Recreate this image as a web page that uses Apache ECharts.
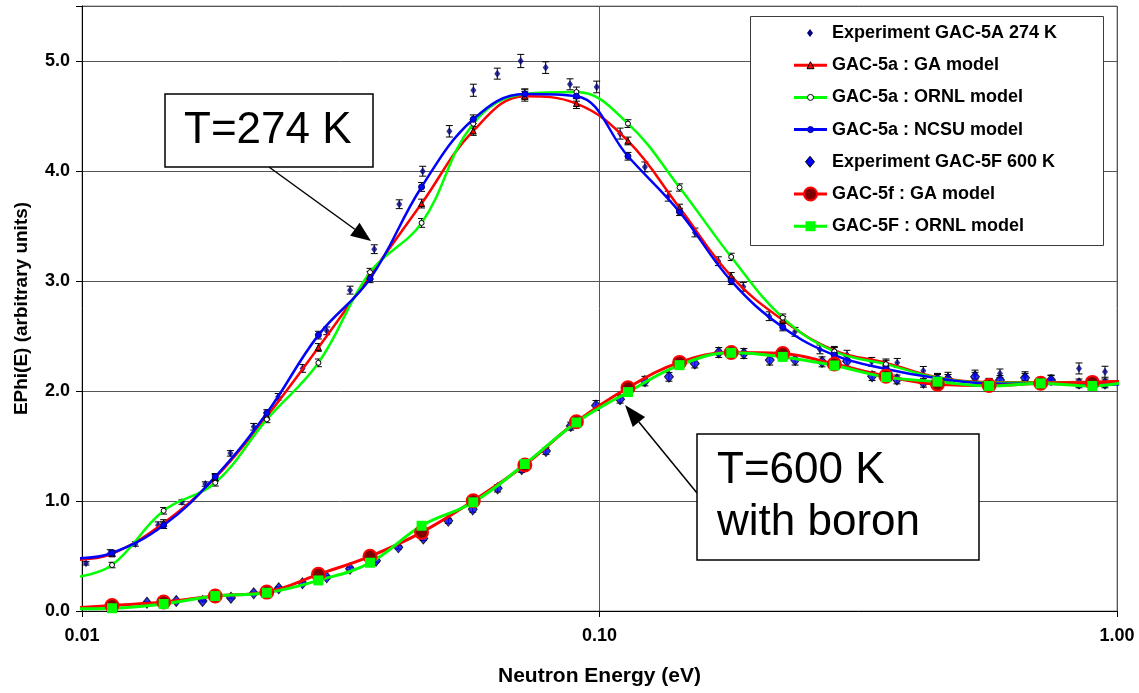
<!DOCTYPE html>
<html>
<head>
<meta charset="utf-8">
<script src="https://cdn.jsdelivr.net/npm/echarts@6/dist/echarts.min.js"></script>
<style>
  html, body { margin: 0; padding: 0; background: #ffffff; }
  #chart { width: 1139px; height: 693px; }
</style>
</head>
<body>
<div id="chart"></div>
<script>
// ---- Measured spectra: GAC-5A at 274 K ----
const E_EXP_274 = [0.01018, 0.01134, 0.01268, 0.01403, 0.0156, 0.01731, 0.01935, 0.02147, 0.02394, 0.02669,
  0.02971, 0.03296, 0.03671, 0.04102, 0.04554, 0.05127, 0.05705, 0.06346, 0.07043, 0.0787,
  0.0877, 0.09876, 0.1096, 0.1224, 0.1358, 0.1529, 0.1697, 0.1896, 0.2128, 0.2386,
  0.2667, 0.3008, 0.3358, 0.3762, 0.4224, 0.4715, 0.5317, 0.5941, 0.6643, 0.7457,
  0.8444, 0.948];
const Y_EXP_274 = [0.433, 0.53, 0.609, 0.78, 0.99, 1.154, 1.433, 1.675, 1.947, 2.205,
  2.547, 2.917, 3.289, 3.698, 3.998, 4.361, 4.734, 4.885, 5.0, 4.94,
  4.788, 4.764, 4.34, 4.037, 3.771, 3.441, 3.18, 2.947, 2.68, 2.538,
  2.378, 2.33, 2.265, 2.256, 2.183, 2.13, 2.15, 2.16, 2.135, 2.105,
  2.205, 2.175];
const ERR_EXP_274 = [0.015, 0.027, 0.02, 0.03, 0.02, 0.02, 0.025, 0.03, 0.03, 0.035,
  0.035, 0.036, 0.04, 0.04, 0.045, 0.052, 0.055, 0.05, 0.06, 0.053,
  0.05, 0.053, 0.05, 0.045, 0.045, 0.04, 0.04, 0.04, 0.04, 0.04,
  0.04, 0.04, 0.04, 0.04, 0.04, 0.04, 0.04, 0.04, 0.04, 0.04,
  0.05, 0.05];

// ---- Measured spectra: GAC-5F at 600 K (borated) ----
const E_EXP_600 = [0.01335, 0.01521, 0.0171, 0.0194, 0.02147, 0.024, 0.02667, 0.02971, 0.03296, 0.037,
  0.04086, 0.04566, 0.05103, 0.05689, 0.06356, 0.07074, 0.07881, 0.08799, 0.09845, 0.1096,
  0.1224, 0.1362, 0.1528, 0.17, 0.1901, 0.2133, 0.2388, 0.2692, 0.3008, 0.3363,
  0.3757, 0.4227, 0.4715, 0.5317, 0.5941, 0.6643, 0.7457, 0.8444, 0.948];
const Y_EXP_600 = [0.075, 0.091, 0.091, 0.121, 0.161, 0.206, 0.252, 0.306, 0.385, 0.457,
  0.579, 0.66, 0.82, 0.924, 1.115, 1.29, 1.454, 1.681, 1.868, 1.925,
  2.09, 2.129, 2.25, 2.35, 2.341, 2.281, 2.281, 2.265, 2.27, 2.135,
  2.105, 2.075, 2.11, 2.13, 2.1, 2.12, 2.1, 2.069, 2.069];
const ERR_EXP_600 = [0.008, 0.008, 0.008, 0.01, 0.01, 0.012, 0.012, 0.013, 0.014, 0.014,
  0.016, 0.02, 0.022, 0.025, 0.033, 0.03, 0.03, 0.036, 0.045, 0.035,
  0.043, 0.04, 0.04, 0.045, 0.045, 0.045, 0.045, 0.045, 0.045, 0.04,
  0.04, 0.04, 0.04, 0.04, 0.04, 0.04, 0.04, 0.04, 0.04];

// ---- Model calculations (first and last entries only carry the curve to the plot edges) ----
const E_MODEL = [0.0098, 0.01143, 0.01438, 0.01809, 0.02276, 0.02863, 0.03602, 0.04531, 0.05702, 0.07173,
  0.09024, 0.1135, 0.1428, 0.1797, 0.226, 0.2843, 0.3577, 0.4499, 0.566, 0.7121,
  0.896, 1.036];
const GA_274 = [0.465, 0.52, 0.80, 1.21, 1.77, 2.396, 3.05, 3.704, 4.364, 4.68,
  4.613, 4.273, 3.665, 3.044, 2.645, 2.37, 2.256, 2.125, 2.08, 2.08,
  2.083, 2.09];
const ORNL_274 = [0.31, 0.418, 0.911, 1.166, 1.742, 2.256, 3.08, 3.528, 4.43, 4.70,
  4.718, 4.431, 3.85, 3.219, 2.667, 2.36, 2.244, 2.12, 2.075, 2.075,
  2.075, 2.08];
const NCSU_274 = [0.48, 0.527, 0.78, 1.22, 1.80, 2.508, 3.02, 3.855, 4.47, 4.70,
  4.68, 4.134, 3.628, 3.001, 2.58, 2.326, 2.2, 2.115, 2.069, 2.065,
  2.06, 2.06];
const ERR_MODEL_274 = [0.025, 0.03, 0.03, 0.03, 0.035, 0.035, 0.04, 0.04, 0.045, 0.045,
  0.035, 0.033, 0.033, 0.033, 0.035, 0.035, 0.035, 0.035, 0.035, 0.035];
const GA_600 = [0.03, 0.05, 0.082, 0.137, 0.172, 0.333, 0.497, 0.715, 1.002, 1.327,
  1.72, 2.03, 2.26, 2.35, 2.341, 2.245, 2.135, 2.062, 2.05, 2.07,
  2.078, 2.09];
const ORNL_600 = [0.02, 0.025, 0.064, 0.136, 0.166, 0.278, 0.439, 0.775, 0.988, 1.336,
  1.714, 1.99, 2.235, 2.347, 2.31, 2.232, 2.126, 2.085, 2.046, 2.069,
  2.046, 2.08];

// ---- Axis text ----
const X_TICK_LABELS = ['0.01', '0.10', '1.00'];
const Y_TICK_LABELS = ['0.0', '1.0', '2.0', '3.0', '4.0', '5.0'];
const X_TITLE = 'Neutron Energy (eV)';
const Y_TITLE = 'EPhi(E) (arbitrary units)';

const FONT = '"Liberation Sans", Arial, Helvetica, sans-serif';

const NAMES = [
  'Experiment GAC-5A 274 K',
  'GAC-5a : GA model',
  'GAC-5a : ORNL model',
  'GAC-5a : NCSU model',
  'Experiment GAC-5F 600 K',
  'GAC-5f : GA model',
  'GAC-5F : ORNL model'
];

function pairs(xs, ys) { return xs.map((x, i) => [x, ys[i]]); }

// Model curve: end entries are drawn as line only, without marker
function modelData(ys) {
  return E_MODEL.map((x, i) => {
    const item = { value: [x, ys[i]] };
    if (i === 0 || i === E_MODEL.length - 1) item.symbol = 'none';
    return item;
  });
}

function errorBars(name, xs, ys, errs) {
  return {
    type: 'custom',
    name: name + ' (error)',
    silent: true,
    clip: false,
    data: xs.map((x, i) => [x, ys[i] - errs[i], ys[i] + errs[i]]),
    encode: { x: 0, y: [1, 2] },
    renderItem: function (params, api) {
      const x = api.value(0);
      const lo = api.coord([x, api.value(1)]);
      const hi = api.coord([x, api.value(2)]);
      const hw = 3.5;
      const st = { stroke: '#000000', lineWidth: 1 };
      return {
        type: 'group',
        children: [
          { type: 'line', shape: { x1: lo[0], y1: lo[1], x2: hi[0], y2: hi[1] }, style: st },
          { type: 'line', shape: { x1: lo[0] - hw, y1: lo[1], x2: lo[0] + hw, y2: lo[1] }, style: st },
          { type: 'line', shape: { x1: hi[0] - hw, y1: hi[1], x2: hi[0] + hw, y2: hi[1] }, style: st }
        ]
      };
    }
  };
}

function modelLine(name, ys, color, width, symbol, size, itemStyle) {
  return {
    type: 'line',
    name: name,
    data: modelData(ys),
    smooth: 0.4,
    clip: false,
    showSymbol: true,
    showAllSymbol: true,
    symbol: symbol,
    symbolSize: size,
    lineStyle: { color: color, width: width },
    itemStyle: itemStyle,
    emphasis: { disabled: true }
  };
}

const modelE = E_MODEL.slice(1, -1);

const series = [
  {
    type: 'scatter', name: NAMES[0], data: pairs(E_EXP_274, Y_EXP_274),
    symbol: 'diamond', symbolSize: [6, 8], itemStyle: { color: '#000080' }, emphasis: { disabled: true }
  },
  errorBars(NAMES[0], E_EXP_274, Y_EXP_274, ERR_EXP_274),
  modelLine(NAMES[1], GA_274, '#ff0000', 2.5, 'triangle', 6,
    { color: '#ff0000', borderColor: '#000000', borderWidth: 1 }),
  errorBars(NAMES[1], modelE, GA_274.slice(1, -1), ERR_MODEL_274),
  modelLine(NAMES[2], ORNL_274, '#00ff00', 2.5, 'circle', 5,
    { color: '#ffffff', borderColor: '#000000', borderWidth: 1 }),
  errorBars(NAMES[2], modelE, ORNL_274.slice(1, -1), ERR_MODEL_274),
  modelLine(NAMES[3], NCSU_274, '#0000ff', 2.5, 'circle', 6,
    { color: '#0000ff', borderColor: '#000080', borderWidth: 1 }),
  errorBars(NAMES[3], modelE, NCSU_274.slice(1, -1), ERR_MODEL_274),
  {
    type: 'scatter', name: NAMES[4], data: pairs(E_EXP_600, Y_EXP_600),
    symbol: 'diamond', symbolSize: [9, 11],
    itemStyle: { color: '#0000ff', borderColor: '#000000', borderWidth: 1 }, emphasis: { disabled: true }
  },
  errorBars(NAMES[4], E_EXP_600, Y_EXP_600, ERR_EXP_600),
  modelLine(NAMES[5], GA_600, '#ff0000', 3, 'circle', 13,
    { color: '#800000', borderColor: '#ff0000', borderWidth: 2 }),
  modelLine(NAMES[6], ORNL_600, '#00ff00', 3, 'rect', 10,
    { color: '#00ff00' })
];

// ---- Legend box, drawn as graphics ----
const LEG = { x: 750, y: 16, w: 353, h: 229, row0: 33, rowGap: 32.2, lineX1: 794, lineX2: 827, textX: 832 };
const legendIcons = [
  { line: null, mark: 'diamond', w: 6, h: 8, fill: '#000080', stroke: null },
  { line: '#ff0000', mark: 'triangle', w: 7, h: 7, fill: '#ff0000', stroke: '#000000' },
  { line: '#00ff00', mark: 'circle', w: 6, h: 6, fill: '#ffffff', stroke: '#000000' },
  { line: '#0000ff', mark: 'circle', w: 6, h: 6, fill: '#0000ff', stroke: '#000080' },
  { line: null, mark: 'diamond', w: 9, h: 11, fill: '#0000ff', stroke: '#000000' },
  { line: '#ff0000', mark: 'circle', w: 13, h: 13, fill: '#800000', stroke: '#ff0000' },
  { line: '#00ff00', mark: 'rect', w: 10, h: 10, fill: '#00ff00', stroke: null }
];

function markShape(icon, cx, cy) {
  const style = { fill: icon.fill, stroke: icon.stroke || null, lineWidth: icon.stroke ? 1 : 0 };
  const hw = icon.w / 2, hh = icon.h / 2;
  if (icon.mark === 'circle') return { type: 'circle', shape: { cx: cx, cy: cy, r: hw }, style: Object.assign({}, style, { lineWidth: icon.w > 10 ? 2 : 1 }) };
  if (icon.mark === 'rect') return { type: 'rect', shape: { x: cx - hw, y: cy - hh, width: icon.w, height: icon.h }, style: style };
  if (icon.mark === 'triangle') return { type: 'polygon', shape: { points: [[cx, cy - hh], [cx + hw, cy + hh], [cx - hw, cy + hh]] }, style: style };
  return { type: 'polygon', shape: { points: [[cx, cy - hh], [cx + hw, cy], [cx, cy + hh], [cx - hw, cy]] }, style: style };
}

const graphics = [];
graphics.push({
  type: 'rect', z: 100,
  shape: { x: LEG.x + 0.5, y: LEG.y + 0.5, width: LEG.w, height: LEG.h },
  style: { fill: '#ffffff', stroke: '#3c3c3c', lineWidth: 1 }
});
NAMES.forEach((name, i) => {
  const cy = LEG.row0 + i * LEG.rowGap;
  const icon = legendIcons[i];
  const cx = (LEG.lineX1 + LEG.lineX2) / 2;
  if (icon.line) {
    graphics.push({ type: 'line', z: 101, shape: { x1: LEG.lineX1, y1: cy, x2: LEG.lineX2, y2: cy },
      style: { stroke: icon.line, lineWidth: 3 } });
  }
  graphics.push(Object.assign({ z: 102 }, markShape(icon, icon.line ? cx : cx - 0.5, cy)));
  graphics.push({ type: 'text', z: 102, x: LEG.textX, y: cy,
    style: { text: name, font: 'bold 18px ' + FONT, fill: '#000000', verticalAlign: 'middle', align: 'left' } });
});

// ---- Temperature call-outs with arrows ----
function arrow(x1, y1, x2, y2, len, hw) {
  const dx = x2 - x1, dy = y2 - y1;
  const d = Math.sqrt(dx * dx + dy * dy);
  const ux = dx / d, uy = dy / d;
  const bx = x2 - ux * len, by = y2 - uy * len;
  return [
    { type: 'line', z: 90, shape: { x1: x1, y1: y1, x2: bx, y2: by }, style: { stroke: '#000', lineWidth: 1.5 } },
    { type: 'polygon', z: 90, shape: { points: [[x2, y2], [bx - uy * hw, by + ux * hw], [bx + uy * hw, by - ux * hw]] },
      style: { fill: '#000' } }
  ];
}

graphics.push({ type: 'rect', z: 95, shape: { x: 165, y: 94, width: 208, height: 73 },
  style: { fill: '#ffffff', stroke: '#000000', lineWidth: 1.5 } });
graphics.push({ type: 'text', z: 96, x: 184, y: 131,
  style: { text: 'T=274 K', font: '44px ' + FONT, fill: '#000', verticalAlign: 'middle' } });
graphics.push(...arrow(269, 167, 371, 241, 20, 8));

graphics.push({ type: 'rect', z: 95, shape: { x: 697, y: 434, width: 282, height: 126 },
  style: { fill: '#ffffff', stroke: '#000000', lineWidth: 1.5 } });
graphics.push({ type: 'text', z: 96, x: 717, y: 471,
  style: { text: 'T=600 K', font: '44px ' + FONT, fill: '#000', verticalAlign: 'middle' } });
graphics.push({ type: 'text', z: 96, x: 717, y: 523,
  style: { text: 'with boron', font: '44px ' + FONT, fill: '#000', verticalAlign: 'middle' } });
graphics.push(...arrow(697, 493, 625, 405, 22, 8));

const chart = echarts.init(document.getElementById('chart'), null, { renderer: 'canvas' });
chart.setOption({
  animation: false,
  backgroundColor: '#ffffff',
  grid: { left: 82, right: 22, top: 6, bottom: 82, show: true, borderColor: '#8c8c8c', borderWidth: 1 },
  xAxis: {
    type: 'log', logBase: 10, min: 0.01, max: 1,
    axisLine: { show: true, onZero: false, lineStyle: { color: '#000000', width: 1 } },
    axisTick: { show: true, length: 6, lineStyle: { color: '#000000' } },
    minorTick: { show: false },
    splitLine: { show: true, lineStyle: { color: '#555555', width: 1 } },
    axisLabel: {
      formatter: v => X_TICK_LABELS[Math.round(Math.log10(v)) + 2],
      fontFamily: FONT, fontWeight: 'bold', fontSize: 18, color: '#000', margin: 16
    },
    name: X_TITLE, nameLocation: 'middle', nameGap: 55,
    nameTextStyle: { fontFamily: FONT, fontWeight: 'bold', fontSize: 21, color: '#000' }
  },
  yAxis: {
    type: 'value', min: 0, max: 5.5, interval: 1,
    axisLine: { show: true, lineStyle: { color: '#000000', width: 1 } },
    axisTick: { show: true, length: 6, lineStyle: { color: '#000000' } },
    splitLine: { show: true, lineStyle: { color: '#555555', width: 1 } },
    axisLabel: {
      formatter: v => (Math.abs(v - Math.round(v)) < 1e-6 ? Y_TICK_LABELS[Math.round(v)] : ''),
      fontFamily: FONT, fontWeight: 'bold', fontSize: 18, color: '#000', margin: 12
    },
    name: Y_TITLE, nameLocation: 'middle', nameGap: 51, nameRotate: 90,
    nameTextStyle: { fontFamily: FONT, fontWeight: 'bold', fontSize: 19, color: '#000' }
  },
  series: series,
  graphic: graphics
});
</script>
</body>
</html>
